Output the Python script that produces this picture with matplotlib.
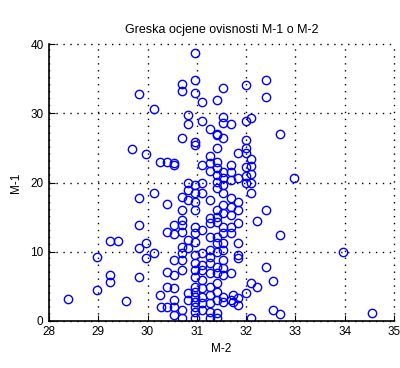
import matplotlib
matplotlib.use("Agg")
import matplotlib.pyplot as plt

plt.rcParams['font.family'] = ['Liberation Sans', 'DejaVu Sans']

# Measurement columns: M-2 value and the M-1 values recorded at it
m2_levels = [28.39, 28.97, 29.24, 29.40, 29.56, 29.68, 29.83, 29.97, 30.13, 30.25,
             30.27, 30.39, 30.54, 30.70, 30.82, 30.96, 31.10, 31.27, 31.40, 31.53,
             31.69, 31.74, 31.84, 32.00, 32.10, 32.23, 32.40, 32.55, 32.69, 32.97,
             33.96, 34.55]
m1_groups = [
    [3.1],
    [9.2, 4.4],
    [11.5, 6.6, 5.6],
    [11.5],
    [2.9],
    [24.8],
    [32.8, 17.7, 13.8, 10.5, 6.4],
    [24.1, 11.2, 9.1],
    [30.6, 18.5, 9.8],
    [22.9, 3.7],
    [2.0],
    [22.9, 16.9, 12.8, 7.1, 4.9, 2.0],
    [22.8, 22.5, 13.8, 12.5, 8.8, 6.6, 4.8, 3.0, 2.0, 0.9],
    [34.3, 33.3, 26.4, 17.9, 16.0, 14.6, 13.9, 12.8, 10.7, 9.8, 8.8, 7.4, 1.6, 0.4],
    [29.7, 28.5, 19.9, 18.9, 17.5, 11.7, 10.5, 4.0, 3.0],
    [38.7, 34.8, 32.9, 25.8, 25.4, 19.6, 18.5, 17.2, 16.0, 13.6, 12.7, 11.4, 9.5,
     8.4, 7.4, 6.3, 4.9, 4.2, 3.5, 2.7, 2.0, 1.3, 0.4],
    [31.7, 28.9, 22.5, 19.9, 18.5, 13.1, 9.8, 8.1, 7.4, 5.9, 4.8, 3.5, 2.6, 1.6],
    [27.7, 23.8, 22.8, 21.7, 17.5, 14.9, 14.1, 12.1, 10.2, 9.2, 8.4, 6.9, 4.9,
     3.8, 2.6, 1.3, 0.4],
    [32.0, 27.0, 26.8, 25.0, 22.9, 22.1, 21.1, 20.1, 19.2, 16.0, 15.0, 14.3, 12.1,
     11.3, 10.0, 7.8, 6.9, 5.5, 4.2, 3.0, 1.2, 0.4],
    [33.6, 29.4, 28.6, 26.5, 21.5, 20.6, 19.6, 18.5, 16.7, 15.6, 13.6, 12.7, 11.3,
     10.2, 8.8, 7.6, 6.6, 3.5, 2.7],
    [28.4, 22.5, 21.5, 20.3, 17.7, 16.5, 15.3, 13.6, 12.7, 6.9, 3.0],
    [3.8, 2.8],
    [24.2, 20.6, 17.2, 16.0, 14.1, 11.3, 9.5, 9.1, 3.3, 2.3],
    [34.1, 28.9, 26.1, 25.0, 24.2, 22.2, 21.0, 19.9, 4.0],
    [29.3, 23.4, 22.4, 21.3, 20.0, 18.5, 5.5, 0.4],
    [14.4, 4.9],
    [34.8, 32.3, 16.0, 7.8],
    [5.8, 1.6],
    [27.0, 12.4, 1.0],
    [20.6],
    [10.0],
    [1.1],
]

m2 = [x for x, ys in zip(m2_levels, m1_groups) for _ in ys]
m1 = [y for ys in m1_groups for y in ys]

x_ticks = [28, 29, 30, 31, 32, 33, 34, 35]
y_ticks = [0, 10, 20, 30, 40]

fig = plt.figure(figsize=(4.0, 3.68), dpi=100)
ax = fig.add_axes([0.1225, 0.128, 0.8625, 0.752])

ax.plot(m2, m1, linestyle='none', marker='o', markersize=6,
        markerfacecolor='none', markeredgecolor='#0000ff', markeredgewidth=1.0)

ax.set_xlim(28, 35)
ax.set_ylim(0, 40)
ax.set_xticks(x_ticks)
ax.set_yticks(y_ticks)
ax.grid(True, linestyle=(0, (1, 4)), color='black', linewidth=1.0)
ax.set_axisbelow(True)
for line in ax.get_xgridlines() + ax.get_ygridlines():
    line.set_clip_on(False)
for side in ('top', 'right'):
    ax.spines[side].set_visible(False)
for side in ('left', 'bottom'):
    ax.spines[side].set_linewidth(1.2)
    ax.spines[side].set_zorder(3)
ax.tick_params(direction='in', length=4, width=0.8, labelsize=8.5, pad=4)

ax.set_title('Greska ocjene ovisnosti M-1 o M-2', fontsize=9, pad=8)
ax.set_xlabel('M-2', fontsize=8.5, labelpad=3)
ax.set_ylabel('M-1', fontsize=8.5, labelpad=6)

fig.savefig('out.png', dpi=100)
